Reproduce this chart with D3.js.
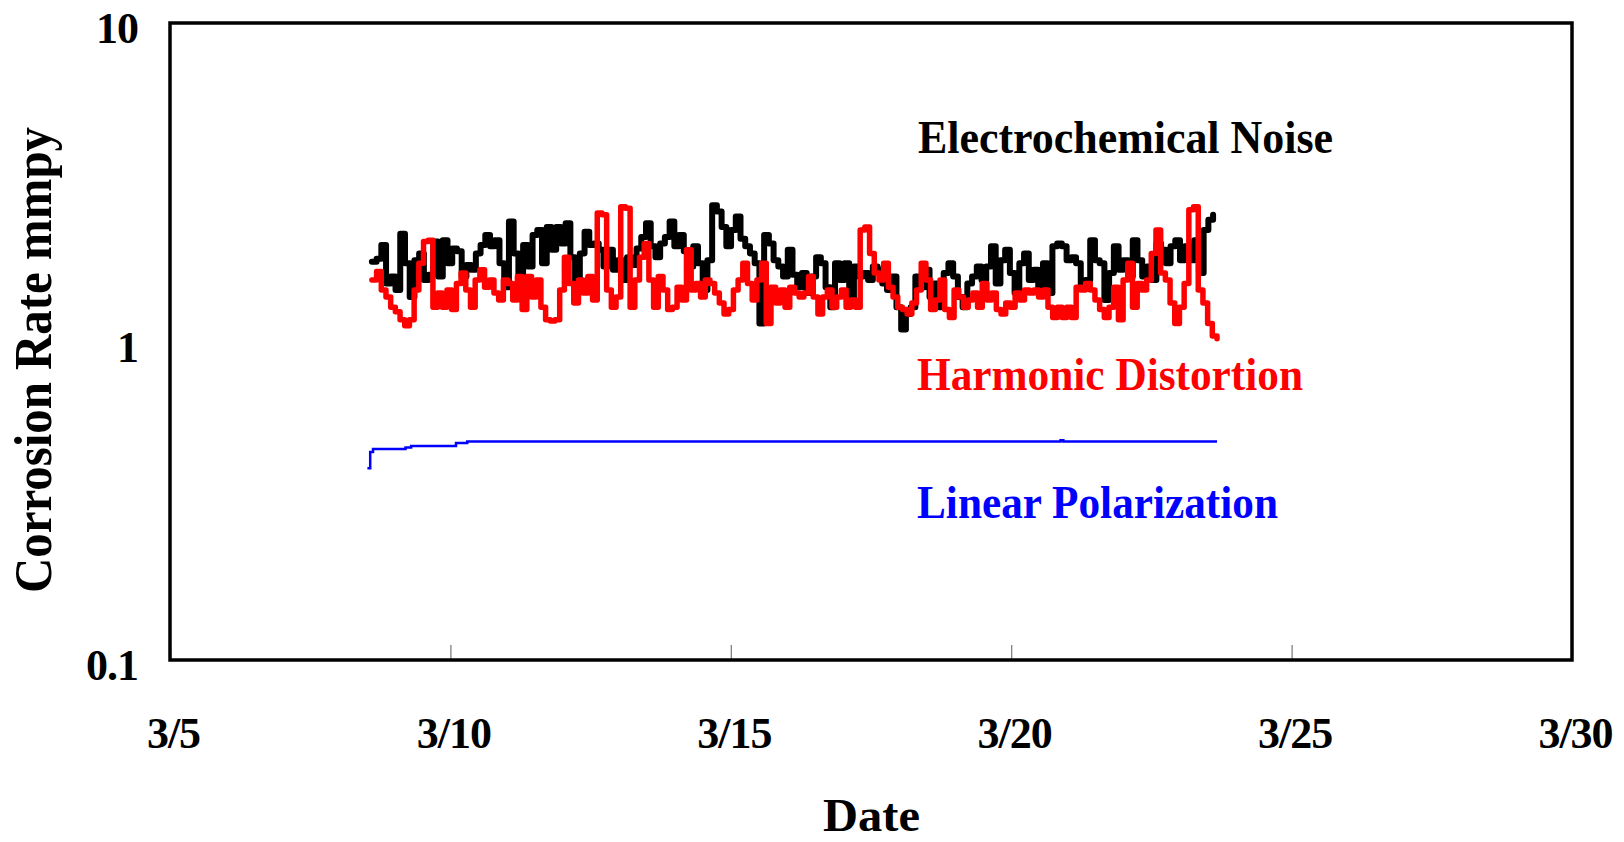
<!DOCTYPE html>
<html>
<head>
<meta charset="utf-8">
<script src="https://cdn.jsdelivr.net/npm/d3@7"></script>
<style>
  html, body { margin: 0; padding: 0; background: #fff; }
  svg { display: block; }
  text { font-family: "Liberation Serif", "Times New Roman", serif; font-weight: bold; }
</style>
</head>
<body>
<svg id="chart" width="1624" height="842"></svg>
<script>
// Corrosion rate monitoring, March: three measurement techniques on a log scale.

// X axis: day-of-March ticks and their labels
const xTickDays = [5, 10, 15, 20, 25, 30];
const xTickLabels = ["3/5", "3/10", "3/15", "3/20", "3/25", "3/30"];

// Y axis (log, mmpy)
const yTicks = [0.1, 1, 10];
const yTickLabels = ["0.1", "1", "10"];

// Electrochemical Noise, sampled evenly from 3/8.60 to 3/23.60
const noiseStartDay = 8.60, noiseEndDay = 23.60;
const noiseValues = [
  1.78,1.82,2.01,1.52,1.60,1.45,2.18,1.76,1.38,1.80,
  1.89,1.56,1.62,2.06,1.60,2.08,1.76,1.96,1.92,1.60,
  1.74,1.68,1.89,2.01,2.16,1.99,2.08,1.76,1.48,2.38,
  1.89,1.62,2.01,1.72,2.16,2.24,1.76,2.29,1.94,2.29,
  2.03,2.35,1.84,1.43,1.89,2.21,2.01,2.03,1.94,1.72,
  1.94,1.68,1.80,1.56,1.84,1.74,1.96,2.13,2.35,1.99,
  1.84,2.03,2.13,2.38,1.99,2.16,1.92,1.72,1.99,1.76,
  1.45,1.80,2.68,2.56,2.29,1.99,2.24,2.47,2.10,1.99,
  1.89,1.76,1.14,2.16,2.03,1.80,1.72,1.60,1.94,1.62,
  1.48,
  1.64,1.42,1.60,1.84,1.76,1.48,1.28,1.76,1.56,1.76,
  1.32,1.72,1.60,1.64,1.56,1.72,1.68,1.52,1.45,1.60,
  1.28,1.09,1.22,1.28,1.60,1.48,1.68,1.38,1.52,1.28,
  1.64,1.76,1.60,1.38,1.28,1.52,1.60,1.72,1.56,1.72,
  1.99,1.52,1.80,1.94,1.64,1.42,1.76,1.89,1.56,1.68,
  1.45,1.76,1.42,1.99,2.03,1.99,1.80,1.84,1.76,1.48,
  1.56,2.08,1.80,1.76,1.35,1.64,1.99,1.68,1.80,1.60,
  2.08,1.80,1.60,1.72,1.56,2.03,1.94,1.76,1.99,2.08,
  1.80,1.99,1.80,2.08,1.64,2.24,2.41,2.50
];

// Harmonic Distortion, sampled evenly from 3/8.60 to 3/23.67
const harmonicStartDay = 8.60, harmonicEndDay = 23.67;
const harmonicValues = [
  1.56,1.66,1.45,1.38,1.28,1.24,1.17,1.12,1.17,1.45,
  1.76,2.06,2.08,1.28,1.42,1.28,1.45,1.26,1.52,1.64,
  1.45,1.28,1.56,1.68,1.48,1.56,1.42,1.35,1.56,1.52,
  1.35,1.60,1.26,1.60,1.38,1.56,1.28,1.17,1.16,1.17,
  1.45,1.84,1.52,1.32,1.56,1.42,1.60,1.35,2.53,2.50,
  1.45,1.28,1.38,2.65,2.62,1.28,1.56,1.84,2.03,1.56,
  1.28,1.60,1.45,1.26,1.28,1.48,1.35,1.94,1.45,1.52,
  1.38,1.56,1.52,1.42,1.32,1.22,1.26,1.45,1.56,1.76,
  1.52,1.35,1.56,1.76,1.14,1.48,1.32,1.45,1.28,1.48,
  1.42,1.38,1.42,
  1.60,1.38,1.22,1.38,1.45,1.28,1.38,1.45,1.28,1.35,
  1.28,2.24,2.29,1.89,1.64,1.56,1.76,1.48,1.38,1.28,
  1.26,1.22,1.32,1.45,1.76,1.56,1.26,1.35,1.56,1.26,
  1.19,1.45,1.38,1.28,1.35,1.42,1.28,1.52,1.35,1.42,
  1.26,1.22,1.32,1.28,1.42,1.35,1.45,1.42,1.45,1.38,
  1.45,1.28,1.19,1.28,1.19,1.28,1.19,1.48,1.45,1.52,
  1.45,1.35,1.26,1.19,1.28,1.48,1.17,1.56,1.76,1.28,
  1.52,1.45,1.56,1.89,2.24,1.64,1.56,1.32,1.14,1.28,
  1.52,2.59,2.65,1.45,1.32,1.14,1.04,1.02
];

// Linear Polarization, step readings (day of March, mmpy)
const linearDays   = [8.52, 8.57, 8.62, 9.20, 9.30, 10.10, 10.30, 20.88, 20.93, 23.67];
const linearValues = [0.40, 0.45, 0.46, 0.465, 0.47, 0.48, 0.485, 0.49, 0.485, 0.485];

// Series labels drawn inside the plot
const seriesNames  = ["Electrochemical Noise", "Harmonic Distortion", "Linear Polarization"];
const seriesColors = ["#000000", "#ff0000", "#0000ff"];

const W = 1624, H = 842;
const margin = { top: 23, right: 52, bottom: 182, left: 170 };
const iw = W - margin.left - margin.right;
const ih = H - margin.top - margin.bottom;

const dayToDate = d => new Date(Date.UTC(2004, 2, 1) + (d - 1) * 864e5);

const svg = d3.select("#chart");
const g = svg.append("g").attr("transform", `translate(${margin.left},${margin.top})`);

const x = d3.scaleUtc().domain([dayToDate(5), dayToDate(30)]).range([0, iw]);
const y = d3.scaleLog().domain([0.1, 10]).range([ih, 0]);

// Evenly spaced sample times for a series
function sampled(values, d0, d1) {
  const t = d3.scaleLinear().domain([0, values.length - 1]).range([d0, d1]);
  return values.map((v, i) => ({ date: dayToDate(t(i)), value: v }));
}

const noiseData = sampled(noiseValues, noiseStartDay, noiseEndDay);
const harmonicData = sampled(harmonicValues, harmonicStartDay, harmonicEndDay);
const linearData = linearDays.map((d, i) => ({ date: dayToDate(d), value: linearValues[i] }));

const line = d3.line()
  .x(d => x(d.date))
  .y(d => y(d.value))
  .curve(d3.curveStepAfter);

// X axis: short inward ticks, labels well below the frame
const xAxis = d3.axisBottom(x)
  .tickValues(xTickDays.map(dayToDate))
  .tickFormat((d, i) => xTickLabels[i])
  .tickSizeInner(-15)
  .tickSizeOuter(0);

const gx = g.append("g").attr("transform", `translate(0,${ih})`).call(xAxis);
gx.select(".domain").remove();
gx.selectAll(".tick line").attr("stroke", "#777").attr("stroke-width", 1.2);
gx.selectAll(".tick text")
  .attr("y", 88).attr("dy", 0)
  .attr("dx", 3)
  .attr("fill", "#000")
  .style("font-size", "44px")
  .style("letter-spacing", "-1px")
  .style("font-family", "'Liberation Serif', 'Times New Roman', serif")
  .style("font-weight", "bold");

// Y axis: labels only
const yAxis = d3.axisLeft(y)
  .tickValues(yTicks)
  .tickFormat((d, i) => yTickLabels[i])
  .tickSize(0);

const gy = g.append("g").call(yAxis);
gy.select(".domain").remove();
gy.selectAll(".tick text")
  .attr("x", -32).attr("dy", 19.5)
  .attr("fill", "#000")
  .style("font-size", "44px")
  .style("letter-spacing", "-1px")
  .style("font-family", "'Liberation Serif', 'Times New Roman', serif")
  .style("font-weight", "bold");

// Series
g.append("path").datum(linearData)
  .attr("fill", "none").attr("stroke", seriesColors[2])
  .attr("stroke-width", 2.5).attr("d", line);

g.append("path").datum(noiseData)
  .attr("fill", "none").attr("stroke", seriesColors[0])
  .attr("stroke-width", 6).attr("stroke-linejoin", "round").attr("stroke-linecap", "round")
  .attr("d", line);

g.append("path").datum(harmonicData)
  .attr("fill", "none").attr("stroke", seriesColors[1])
  .attr("stroke-width", 5.5).attr("stroke-linejoin", "round").attr("stroke-linecap", "round")
  .attr("d", line);

// Plot frame
g.append("rect")
  .attr("x", 0).attr("y", 0).attr("width", iw).attr("height", ih)
  .attr("fill", "none").attr("stroke", "#000").attr("stroke-width", 3.5);

// Series labels
const labelPos = [
  { x: 918, y: 153, len: 415 },
  { x: 917, y: 390, len: 386 },
  { x: 917, y: 518, len: 361 }
];
seriesNames.forEach((name, i) => {
  svg.append("text")
    .attr("x", labelPos[i].x).attr("y", labelPos[i].y)
    .attr("fill", seriesColors[i])
    .attr("textLength", labelPos[i].len)
    .attr("lengthAdjust", "spacingAndGlyphs")
    .style("font-size", "46px")
    .text(name);
});

// Axis titles
svg.append("text")
  .attr("x", 823).attr("y", 831)
  .attr("textLength", 97).attr("lengthAdjust", "spacingAndGlyphs")
  .style("font-size", "47px")
  .text("Date");

svg.append("text")
  .attr("transform", "translate(51,360) rotate(-90)")
  .attr("text-anchor", "middle")
  .attr("textLength", 466).attr("lengthAdjust", "spacingAndGlyphs")
  .style("font-size", "52px")
  .text("Corrosion Rate mmpy");
</script>
</body>
</html>
